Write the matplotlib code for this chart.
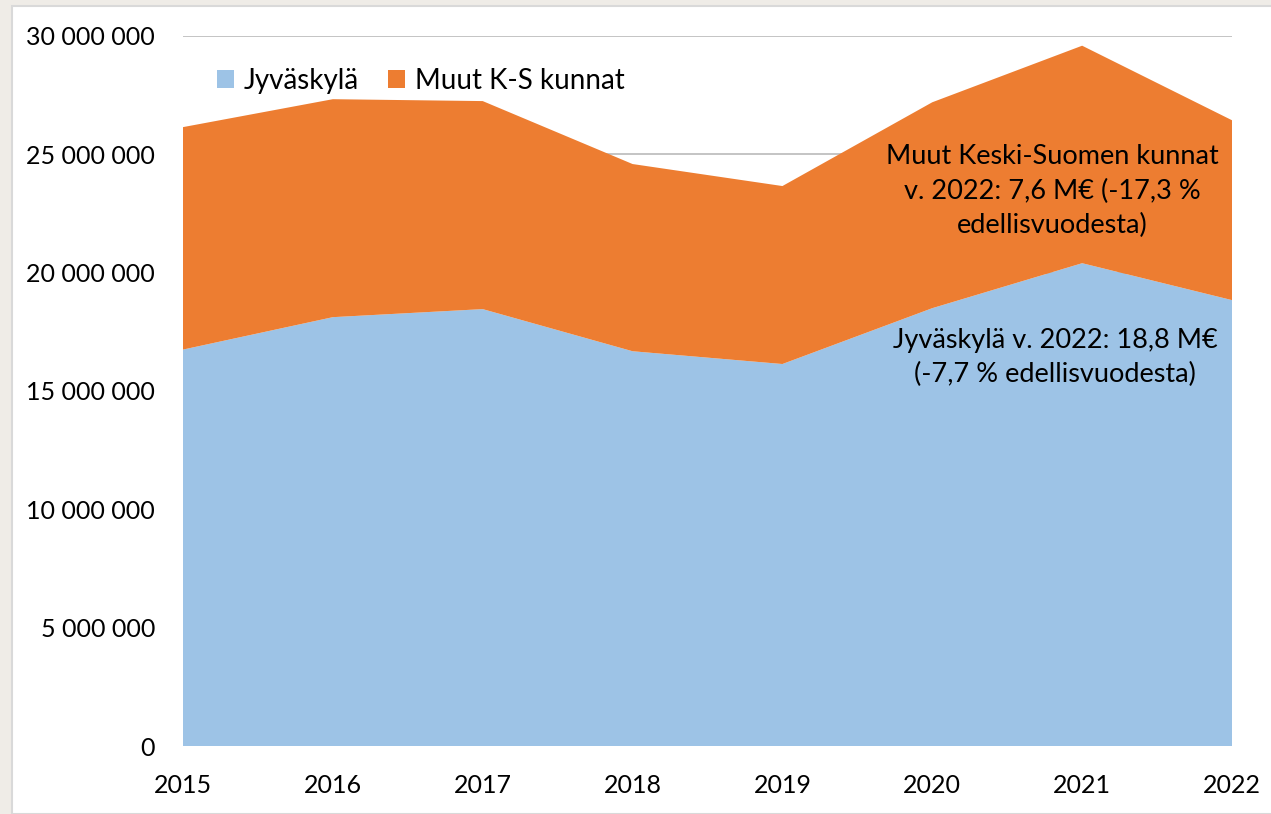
import matplotlib
matplotlib.use("Agg")
import matplotlib.pyplot as plt
from matplotlib.patches import Rectangle
from matplotlib.ticker import FuncFormatter

years = [2015, 2016, 2017, 2018, 2019, 2020, 2021, 2022]
jyvaskyla = [16.75e6, 18.12e6, 18.46e6, 16.68e6, 16.14e6, 18.50e6, 20.40e6, 18.84e6]
muut = [9.40e6, 9.21e6, 8.79e6, 7.91e6, 7.52e6, 8.70e6, 9.19e6, 7.60e6]

BLUE = "#9dc3e6"
ORANGE = "#ed7d31"

plt.rcParams['font.family'] = ['Lato', 'DejaVu Sans']

fig = plt.figure(figsize=(12.71, 8.14), dpi=100, facecolor="#efece7")
# white chart panel with thin gray border (drawn behind the axes)
fig.patches.append(Rectangle((12 / 1271, 0), 1.0, 1 - 6 / 814, transform=fig.transFigure,
                             facecolor="white", edgecolor="#d9d9d9", linewidth=1.5, zorder=-1))

ax = fig.add_axes([183 / 1271, 1 - 746 / 814, (1232 - 183) / 1271, (746 - 36) / 814])
ax.set_facecolor("none")

ax.stackplot(years, jyvaskyla, muut, colors=[BLUE, ORANGE],
             labels=["Jyväskylä", "Muut K-S kunnat"], zorder=2)

ax.set_xlim(2015, 2022)
ax.set_ylim(0, 30e6)
ax.set_yticks(range(0, 30000001, 5000000))
ax.yaxis.set_major_formatter(FuncFormatter(lambda v, p: f"{int(v):,}".replace(",", " ")))
ax.set_xticks(years)
ax.grid(axis="y", color="#bfbfbf", linewidth=1.3, zorder=1)
ax.set_axisbelow(True)
for s in ax.spines.values():
    s.set_visible(False)
ax.tick_params(length=0, labelsize=18, colors="black")
ax.tick_params(axis="y", pad=20)
ax.tick_params(axis="x", pad=20)

ax.legend(loc="upper left", bbox_to_anchor=(0.009, 0.99), ncol=2, frameon=False,
          fontsize=20, handlelength=0.6, handleheight=0.6, handletextpad=0.35,
          columnspacing=1.05)

ax.text(2020.8, 23.45e6, "Muut Keski-Suomen kunnat\nv. 2022: 7,6 M€ (-17,3 %\nedellisvuodesta)",
        ha="center", va="center", fontsize=19.5, linespacing=1.45, zorder=3)
ax.text(2020.82, 16.4e6, "Jyväskylä v. 2022: 18,8 M€\n(-7,7 % edellisvuodesta)",
        ha="center", va="center", fontsize=19.5, linespacing=1.45, zorder=3)

plt.savefig("out.png", dpi=100, facecolor=fig.get_facecolor())
